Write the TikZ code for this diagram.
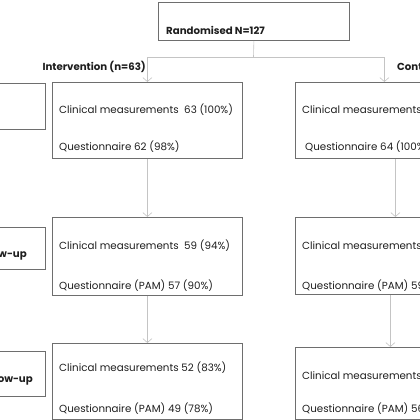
\documentclass[tikz,border=0pt]{standalone}
\usepackage{fontspec}
\setmainfont{Poppins}
\usetikzlibrary{arrows.meta,positioning}
\definecolor{boxline}{HTML}{6E6E6E}
\definecolor{arrline}{HTML}{C4C4C4}
\definecolor{txtcol}{HTML}{1E1E1E}
\begin{document}
\begin{tikzpicture}[x=1pt, y=-1pt, font=\fontsize{10.3}{12}\selectfont, text=txtcol,
  box/.style={draw=boxline, line width=0.8pt, anchor=north west, inner sep=0pt, minimum width=190pt},
  lab/.style={anchor=west, inner sep=0pt},
  head/.style={lab, font=\fontsize{10.2}{12}\selectfont\bfseries},
  arr/.style={-{Straight Barb[length=4pt, width=9pt, line width=0.6pt]}, draw=arrline, line width=0.6pt}]
\useasboundingbox (0,0) rectangle (420,420);
% randomisation
\node[box, minimum width=191pt, minimum height=38pt] (rand) at (158,2) {};
\node[head] (randtxt) at (166,30) {Randomised N=127};
\coordinate (split) at (253.5,57);
\node[head, anchor=east] (inttxt) at (146,67) {Intervention (n=63)};
\node[head] (ctltxt) at (397,67) {Control (n=64)};
% time points
\node[box, minimum width=100pt, minimum height=46pt] (t0) at (-55,83) {};
\node[box, minimum width=100pt, minimum height=42pt] (t1) at (-55,227) {};
\node[box, minimum width=100pt, minimum height=45pt] (t2) at (-55,351) {};
\node[head, anchor=east] (t1txt) at (27,255) {Follow-up};
\node[head, anchor=east] (t2txt) at (33,380) {Follow-up};
% intervention arm
\node[box, minimum height=76pt] (int1) at (52,82) {};
\node[box, minimum height=78pt] (int2) at (52,217) {};
\node[box, minimum height=76pt] (int3) at (52,343) {};
\node[lab] (int1a) at (59,110) {Clinical measurements\ \ 63 (100\%)};
\node[lab] (int1b) at (59,147) {Questionnaire 62 (98\%)};
\node[lab] (int2a) at (59,246) {Clinical measurements\ \ 59 (94\%)};
\node[lab] (int2b) at (59,286) {Questionnaire (PAM) 57 (90\%)};
\node[lab] (int3a) at (59,368) {Clinical measurements 52 (83\%)};
\node[lab] (int3b) at (59,409) {Questionnaire (PAM) 49 (78\%)};
% control arm
\node[box, minimum width=178pt, minimum height=76pt] (ctl1) at (295,82) {};
\node[box, minimum width=178pt, minimum height=77pt] (ctl2) at (295,217) {};
\node[box, minimum width=178pt, minimum height=72pt] (ctl3) at (295,347) {};
\node[lab] (ctl1a) at (302,110) {Clinical measurements};
\node[lab] (ctl1b) at (305,147) {Questionnaire 64 (100\%)};
\node[lab] (ctl2a) at (302,246) {Clinical measurements};
\node[lab] (ctl2b) at (302,286) {Questionnaire (PAM) 59};
\node[lab] (ctl3a) at (302,376) {Clinical measurements};
\node[lab] (ctl3b) at (302,409) {Questionnaire (PAM) 56};
% connectors
\draw[draw=arrline, line width=0.6pt] (rand.south) -- (split);
\draw[arr] (split) -| (int1.north);
\draw[arr] (split) -| (ctl1.north);
\draw[arr] (int1) -- (int2);
\draw[arr] (int2) -- (int3);
\draw[arr] ([xshift=11pt]ctl1.south) -- ([xshift=11pt]ctl2.north);
\draw[arr] ([xshift=6pt]ctl2.south) -- ([xshift=6pt]ctl3.north);
\end{tikzpicture}
\end{document}
